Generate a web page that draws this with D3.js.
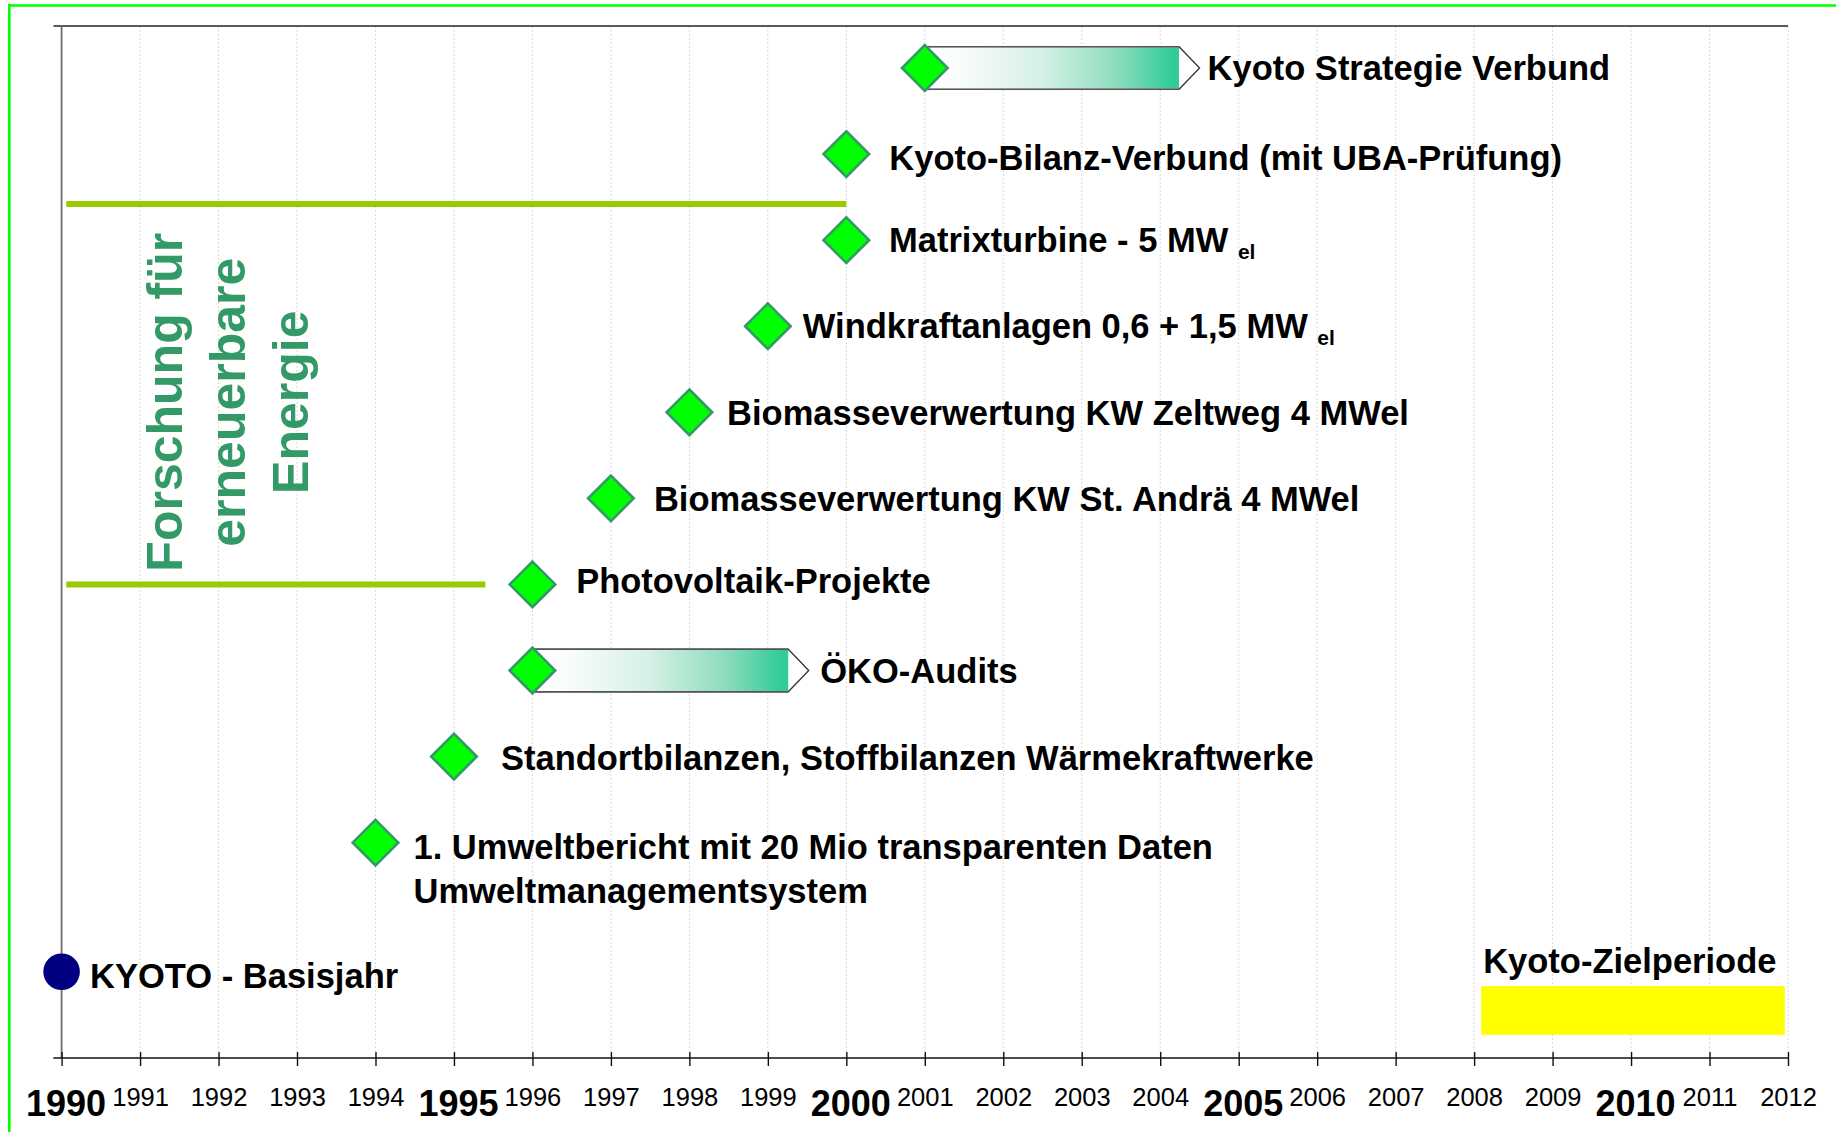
<!DOCTYPE html>
<meta charset="utf-8">
<style>

    body {
        margin: 0;
        background: #fff;
    }

    svg text {
        font-family: "Liberation Sans", Arial, sans-serif;
    }

    .label {
        font-size: 34.5px;
        font-weight: bold;
        fill: #000;
    }

</style>
<body>
<div id="plotarea"></div>

<script src="https://cdn.jsdelivr.net/npm/d3@7"></script>
<script>

    // axis years
    var yearTicks = [1990, 1991, 1992, 1993, 1994, 1995, 1996, 1997, 1998, 1999, 2000, 2001,
                     2002, 2003, 2004, 2005, 2006, 2007, 2008, 2009, 2010, 2011, 2012];
    var majorYears = [1990, 1995, 2000, 2005, 2010];

    // milestones, top to bottom
    var milestoneLabels = [
        ["Kyoto Strategie Verbund"],
        ["Kyoto-Bilanz-Verbund (mit UBA-Prüfung)"],
        ["Matrixturbine - 5 MW"],
        ["Windkraftanlagen 0,6 + 1,5 MW"],
        ["Biomasseverwertung KW Zeltweg 4 MWel"],
        ["Biomasseverwertung KW St. Andrä 4 MWel"],
        ["Photovoltaik-Projekte"],
        ["ÖKO-Audits"],
        ["Standortbilanzen, Stoffbilanzen Wärmekraftwerke"],
        ["1. Umweltbericht mit 20 Mio transparenten Daten", "Umweltmanagementsystem"]
    ];
    var milestoneSubs = ["", "", "el", "el", "", "", "", "", "", ""];
    var milestoneYears = [2001, 2000, 2000, 1999, 1998, 1997, 1996, 1996, 1995, 1994];
    var milestoneEnds = [2004.24, null, null, null, null, null, null, 1999.26, null, null];
    var milestoneLanes = [0, 1, 2, 3, 4, 5, 6, 7, 8, 9];

    // research period bracket
    var researchTitle = ["Forschung für", "erneuerbare", "Energie"];
    var researchStarts = [1990.06, 1990.06];
    var researchEnds = [2000, 1995.4];
    var researchLanes = [1.58, 6.0];

    // base year and target period
    var baseLabel = "KYOTO - Basisjahr";
    var baseYear = 1990;
    var baseLane = 10.5;
    var targetLabel = "Kyoto-Zielperiode";
    var targetStart = 2008.09;
    var targetEnd = 2011.96;
    var targetLane = 10.95;

    var width = 1836,
        height = 1132,
        plotTop = 26,
        axisY = 1058;

    // label placement next to each marker (gap in px, baseline shift in px)
    var labelGap = [8, 43, 42.7, 35, 37.7, 43, 43.7, 11.5, 47, 38];
    var labelShift = [12, 15.5, 11.5, 11.8, 12.3, 12.5, 8.6, 12.5, 13.3, 16.6];

    var x = d3.scaleLinear()
            .domain([1990, 2012])
            .range([61.6, 1788]);

    var y = d3.scaleLinear()
            .domain([0, 1])
            .range([68, 154.07]);

    var svg = d3.select("#plotarea").append("svg")
            .attr("width", width)
            .attr("height", height);

    var defs = svg.append("defs");
    var grad = defs.append("linearGradient")
            .attr("id", "barGrad")
            .attr("x1", "0").attr("x2", "1").attr("y1", "0").attr("y2", "0");
    [[0, "#ffffff"], [0.12, "#fbfdfc"], [0.45, "#d6f1e6"], [0.75, "#8fdcbd"], [0.97, "#33cc99"], [1, "#33cc99"]]
        .forEach(function(s) {
            grad.append("stop").attr("offset", s[0]).attr("stop-color", s[1]);
        });

    // outer green frame
    svg.append("line")
            .attr("x1", 9.3).attr("x2", width).attr("y1", 5.5).attr("y2", 5.5)
            .style("stroke", "#00ff00").style("stroke-width", 2.7);
    svg.append("line")
            .attr("x1", 9.3).attr("x2", 9.3).attr("y1", 4).attr("y2", height)
            .style("stroke", "#00ff00").style("stroke-width", 2.7);

    // grid
    svg.append("g").selectAll("line")
            .data(yearTicks.slice(1))
            .enter().append("line")
            .attr("x1", function(d) { return x(d); })
            .attr("x2", function(d) { return x(d); })
            .attr("y1", plotTop)
            .attr("y2", axisY)
            .style("stroke", "#dadada")
            .style("stroke-width", 1)
            .style("stroke-dasharray", "2,2");

    // frame lines
    svg.append("line")
            .attr("x1", 53.5).attr("x2", x(2012)).attr("y1", plotTop).attr("y2", plotTop)
            .style("stroke", "#222").style("stroke-width", 1.6);
    svg.append("line")
            .attr("x1", x(1990)).attr("x2", x(1990)).attr("y1", plotTop).attr("y2", axisY)
            .style("stroke", "#6e6e6e").style("stroke-width", 1.8);

    // x axis
    var xAxis = d3.axisBottom(x)
            .tickValues(yearTicks)
            .tickSizeOuter(0)
            .tickFormat(d3.format("d"));

    var axisG = svg.append("g")
            .attr("transform", "translate(0," + axisY + ")")
            .call(xAxis);
    axisG.select(".domain").remove();
    axisG.append("line")
            .attr("x1", 53.3).attr("x2", x(2012))
            .style("stroke", "#111").style("stroke-width", 1.6);
    axisG.selectAll(".tick line")
            .attr("y1", -6).attr("y2", 8)
            .style("stroke", "#111").style("stroke-width", 1.4);
    axisG.selectAll(".tick text")
            .attr("dy", 0)
            .attr("y", function(d) { return majorYears.indexOf(d) >= 0 ? 58 : 48; })
            .attr("dx", function(d) { return majorYears.indexOf(d) >= 0 ? 4 : 0; })
            .style("font-family", "'Liberation Sans', Arial, sans-serif")
            .style("font-size", function(d) { return majorYears.indexOf(d) >= 0 ? "36px" : "25.5px"; })
            .style("font-weight", function(d) { return majorYears.indexOf(d) >= 0 ? "bold" : "normal"; })
            .style("fill", "#000");

    // research bracket
    svg.append("g").selectAll("line")
            .data(researchLanes)
            .enter().append("line")
            .attr("x1", function(d, i) { return x(researchStarts[i]); })
            .attr("x2", function(d, i) { return x(researchEnds[i]); })
            .attr("y1", function(d) { return y(d); })
            .attr("y2", function(d) { return y(d); })
            .style("stroke", "#99cc00")
            .style("stroke-width", 6);

    var titleMid = (y(researchLanes[0]) + y(researchLanes[1])) / 2 + 8;
    svg.append("g").selectAll("text")
            .data(researchTitle)
            .enter().append("text")
            .attr("transform", function(d, i) {
                return "translate(" + (181.7 + i * 63.3) + "," + titleMid + ") rotate(-90)";
            })
            .attr("text-anchor", "middle")
            .style("font-size", "50px")
            .style("font-weight", "bold")
            .style("fill", "#339966")
            .text(function(d) { return d; });

    // milestone rows
    var rows = milestoneLabels.map(function(lines, i) {
        return {lines: lines, sub: milestoneSubs[i], year: milestoneYears[i],
                end: milestoneEnds[i], lane: milestoneLanes[i],
                gap: labelGap[i], shift: labelShift[i]};
    });

    var row = svg.append("g").selectAll(".row")
            .data(rows)
            .enter().append("g")
            .attr("class", "row");

    // arrows for periods
    var half = 21.3, tip = 20.5;
    row.filter(function(d) { return d.end != null; })
            .each(function(d) {
                var g = d3.select(this),
                    x0 = x(d.year), x1 = x(d.end), cy = y(d.lane);
                g.append("path")
                        .attr("d", "M" + x0 + "," + (cy - half) + "L" + x1 + "," + (cy - half) +
                                "L" + (x1 + tip) + "," + cy + "L" + x1 + "," + (cy + half) +
                                "L" + x0 + "," + (cy + half) + "Z")
                        .style("fill", "#fff")
                        .style("stroke", "#333")
                        .style("stroke-width", 1.3);
                g.append("rect")
                        .attr("x", x0)
                        .attr("y", cy - half + 0.8)
                        .attr("width", x1 - x0)
                        .attr("height", 2 * half - 1.6)
                        .style("fill", "url(#barGrad)");
                g.append("line")
                        .attr("x1", x0).attr("x2", x1)
                        .attr("y1", cy - half).attr("y2", cy - half)
                        .style("stroke", "#555").style("stroke-width", 1.6);
                g.append("line")
                        .attr("x1", x0).attr("x2", x1)
                        .attr("y1", cy + half).attr("y2", cy + half)
                        .style("stroke", "#555").style("stroke-width", 1.6);
            });

    var dsize = 22.8;
    row.append("path")
            .attr("d", function(d) {
                var cx = x(d.year), cy = y(d.lane);
                return "M" + cx + "," + (cy - dsize) + "L" + (cx + dsize) + "," + cy +
                        "L" + cx + "," + (cy + dsize) + "L" + (cx - dsize) + "," + cy + "Z";
            })
            .style("fill", "#00ff00")
            .style("stroke", "#339966")
            .style("stroke-width", 2.6)
            .style("stroke-linejoin", "miter");

    var label = row.append("text")
            .attr("class", "label")
            .attr("x", function(d) {
                return d.end != null ? x(d.end) + tip + d.gap : x(d.year) + d.gap;
            })
            .attr("y", function(d) { return y(d.lane) + d.shift; });

    label.each(function(d) {
        var t = d3.select(this);
        d.lines.forEach(function(line, j) {
            t.append("tspan")
                    .attr("x", t.attr("x"))
                    .attr("dy", j === 0 ? 0 : 44)
                    .text(line);
        });
        if (d.sub) {
            t.append("tspan").text(" ");
            t.append("tspan")
                    .attr("dy", 7)
                    .style("font-size", "21px")
                    .text(d.sub);
        }
    });

    // base year
    svg.append("circle")
            .attr("cx", x(baseYear))
            .attr("cy", y(baseLane))
            .attr("r", 18.3)
            .style("fill", "#000080");
    svg.append("text")
            .attr("class", "label")
            .attr("x", x(baseYear) + 28.5)
            .attr("y", y(baseLane) + 16.6)
            .text(baseLabel);

    // target period
    var targetH = 48.7;
    svg.append("rect")
            .attr("x", x(targetStart))
            .attr("y", y(targetLane) - targetH / 2)
            .attr("width", x(targetEnd) - x(targetStart))
            .attr("height", targetH)
            .style("fill", "#ffff00");
    svg.append("text")
            .attr("class", "label")
            .attr("x", x(targetStart) + 2)
            .attr("y", y(targetLane) - targetH / 2 - 13.3)
            .text(targetLabel);

</script>
